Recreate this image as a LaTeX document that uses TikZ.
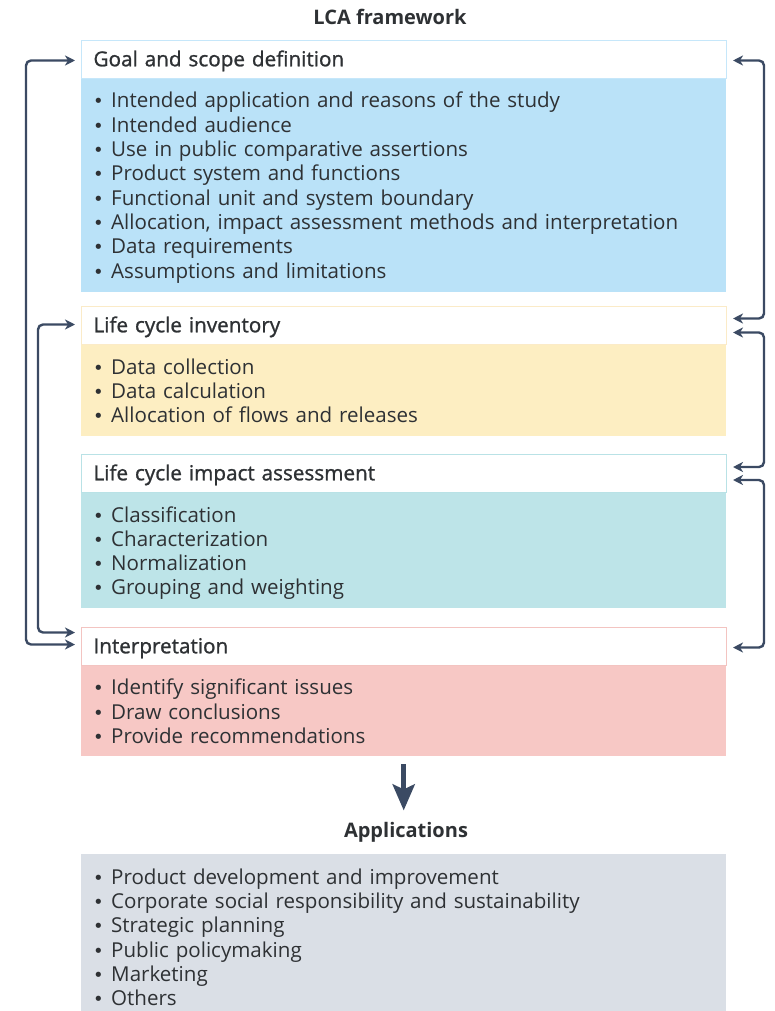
\documentclass[tikz,border=0pt]{standalone}
\usepackage{fontspec}
\setmainfont{Open Sans}
\newfontfamily\headfont[FakeBold=1.1]{Open Sans}
\newfontfamily\dotfont{DejaVu Sans}
\usetikzlibrary{arrows.meta}

\definecolor{txt}{HTML}{2E3134}
\definecolor{arrowc}{HTML}{3B4A63}
\definecolor{goalfill}{HTML}{BAE2F8}
\definecolor{goaledge}{HTML}{C6E7FA}
\definecolor{lcifill}{HTML}{FDEEC2}
\definecolor{lciedge}{HTML}{FBEBC8}
\definecolor{lciafill}{HTML}{BDE4E8}
\definecolor{lciaedge}{HTML}{B9E2E6}
\definecolor{interpfill}{HTML}{F7C8C5}
\definecolor{interpedge}{HTML}{F3C4C1}
\definecolor{appfill}{HTML}{DADFE6}

% list text: fixed line pitch, no extra lineskip for deep lines
\newcommand\listfont{\fontsize{20.55}{24.3}\selectfont
  \lineskiplimit=-100pt\relax\lineskip=0pt\relax}
% one bullet line of a list
\newcommand\li[1]{\rule[-3.8pt]{0pt}{24.3pt}\makebox[18pt][l]{\dotfont\fontsize{18}{20}\selectfont•}#1}

\tikzset{
  hdr/.style={draw=#1, fill=white, line width=1pt, anchor=north west,
    minimum width=645pt, minimum height=38pt, inner xsep=12pt, inner ysep=0pt,
    text width=621pt, align=left, text height=13.6pt, text depth=0pt,
    font=\headfont\fontsize{20.7}{22}\selectfont, text=txt},
  body/.style={fill=#1, anchor=north west, minimum width=645pt,
    inner xsep=12pt, inner ysep=0pt, text width=621pt, align=left,
    font=\listfont, text=txt},
  heading/.style={font=\bfseries\fontsize{20}{22}\selectfont, text=txt},
  biarrow/.style={draw=arrowc, line width=2.4pt, rounded corners=5pt,
    {Stealth[length=10pt,width=10pt,inset=3pt]}-{Stealth[length=10pt,width=10pt,inset=3pt]}},
  downarrow/.style={draw=arrowc, line width=5pt,
    -{Stealth[length=26pt,width=22pt,inset=5pt]}}
}

\begin{document}
\begin{tikzpicture}[x=1pt,y=-1pt]
\useasboundingbox (0,0) rectangle (774,1011);
\fill[white] (0,0) rectangle (774,1011);

\node[heading] (title) at (390,17) {LCA framework};

% Goal and scope definition
\node[body=goalfill, minimum height=214pt] (goalB) at (81,78) {%
  \li{Intended application and reasons of the study}\\
  \li{Intended audience}\\
  \li{Use in public comparative assertions}\\
  \li{Product system and functions}\\
  \li{Functional unit and system boundary}\\
  \li{Allocation, impact assessment methods and interpretation}\\
  \li{Data requirements}\\
  \li{Assumptions and limitations}};
\node[hdr=goaledge] (goalH) at (81,40) {Goal and scope definition};

% Life cycle inventory
\node[body=lcifill, minimum height=92pt] (lciB) at (81,344) {%
  \li{Data collection}\\
  \li{Data calculation}\\
  \li{Allocation of flows and releases}};
\node[hdr=lciedge] (lciH) at (81,306) {Life cycle inventory};

% Life cycle impact assessment
\node[body=lciafill, minimum height=115pt] (lciaB) at (81,493) {%
  \li{Classification}\\
  \li{Characterization}\\
  \li{Normalization}\\
  \li{Grouping and weighting}};
\node[hdr=lciaedge] (lciaH) at (81,454) {Life cycle impact assessment};

% Interpretation
\node[body=interpfill, minimum height=91pt] (interpB) at (81,665) {%
  \li{Identify significant issues}\\
  \li{Draw conclusions}\\
  \li{Provide recommendations}};
\node[hdr=interpedge] (interpH) at (81,627) {Interpretation};

% Applications
\node[heading] (appT) at (406,832) {Applications};
\node[body=appfill, minimum height=165pt] (appB) at (81,854) {%
  \li{Product development and improvement}\\
  \li{Corporate social responsibility and sustainability}\\
  \li{Strategic planning}\\
  \li{Public policymaking}\\
  \li{Marketing}\\
  \li{Others}};

\draw[downarrow] ([yshift=-8pt]interpB.south) -- ([yshift=-54pt]interpB.south);

% iterative links, right side
\draw[biarrow] ([xshift=6pt,yshift=-1pt]goalH.east) -- ++(31,0)
  |- ([xshift=6pt,yshift=7pt]lciH.east);
\draw[biarrow] ([xshift=6pt,yshift=-7pt]lciH.east) -- ++(31,0)
  |- ([xshift=6pt,yshift=6.5pt]lciaH.east);
\draw[biarrow] ([xshift=6pt,yshift=-6.5pt]lciaH.east) -- ++(31,0)
  |- ([xshift=6pt,yshift=-1pt]interpH.east);

% iterative links, left side
\draw[biarrow] ([xshift=-6pt,yshift=-1pt]goalH.west) -- ++(-49,0)
  |- ([xshift=-6pt,yshift=2pt]interpH.west);
\draw[biarrow] ([xshift=-6pt,yshift=1pt]lciH.west) -- ++(-37,0)
  |- ([xshift=-6pt,yshift=14pt]interpH.west);
\end{tikzpicture}
\end{document}
